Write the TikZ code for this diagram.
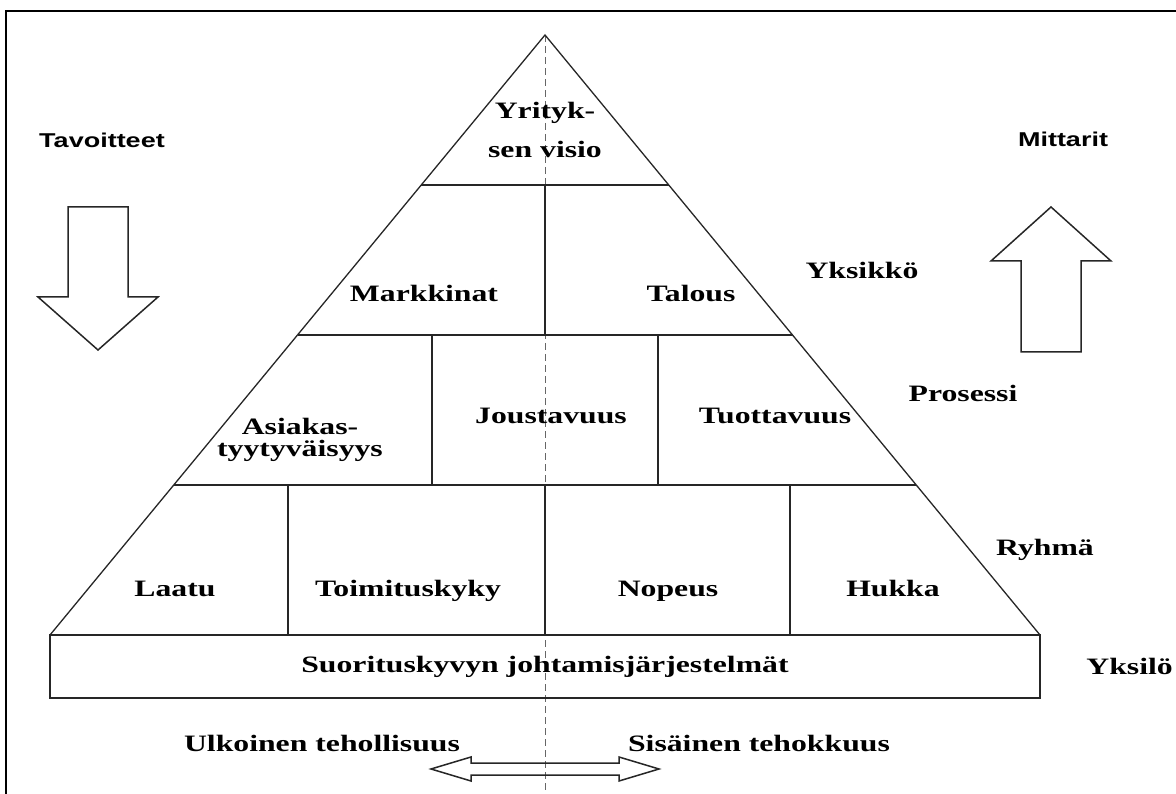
\documentclass[tikz,border=0pt]{standalone}
\usepackage{fontspec}
\setmainfont{Liberation Serif}[FakeStretch=1.35]
\newfontfamily\sidefont{Liberation Sans}[FakeStretch=1.35]
\usetikzlibrary{calc}

\begin{document}
\begin{tikzpicture}[x=1pt, y=-1pt,
  lvl/.style={font=\bfseries\fontsize{23.5}{22}\selectfont, inner sep=0pt, align=center},
  side/.style={font=\sidefont\bfseries\fontsize{20}{22}\selectfont, inner sep=0pt, anchor=base},
  edge/.style={draw=black!85, line width=1.3pt},
  hollow/.style={draw=black!85, line width=1.5pt, line join=miter}]
  \clip (0,0) rectangle (1176,794);
  % frame
  \draw[line width=2.8pt] (6,800) -- (6,11) -- (1180,11);
  % pyramid corners
  \coordinate (top) at (545,35);
  \coordinate (bl) at (50,635);
  \coordinate (br) at (1040,635);
  % centre line
  \draw[black!60, line width=1pt, dash pattern=on 7pt off 4pt] (top) -- (545,800);
  % pyramid
  \draw[edge] (bl) -- (top) -- (br);
  \draw[edge] ($(top)!0.25!(bl)$) -- ($(top)!0.25!(br)$);
  \draw[edge] ($(top)!0.5!(bl)$) -- ($(top)!0.5!(br)$);
  \draw[edge] ($(top)!0.75!(bl)$) -- ($(top)!0.75!(br)$);
  \draw[edge] (545,185) -- (545,335);
  \draw[edge] (432,335) -- (432,485);
  \draw[edge] (658,335) -- (658,485);
  \draw[edge] (288,485) -- (288,635);
  \draw[edge] (545,485) -- (545,635);
  \draw[edge] (790,485) -- (790,635);
  \node[lvl, edge, minimum width=990pt, minimum height=63pt] (johto) at (545,666.5)
    {Suorituskyvyn johtamisjärjestelmät};
  % level texts
  \node[lvl] (visio) at (545,129.5) {Yrityk-\\[17pt]sen visio};
  \node[lvl, anchor=base] (markkinat) at (424,302) {Markkinat};
  \node[lvl, anchor=base] (talous) at (691,302) {Talous};
  \node[lvl] (asiakas) at (300,440) {Asiakas-\\tyytyväisyys};
  \node[lvl, anchor=base] (jousto) at (551,424) {Joustavuus};
  \node[lvl, anchor=base] (tuotto) at (775,424) {Tuottavuus};
  \node[lvl, anchor=base] (laatu) at (175,596) {Laatu};
  \node[lvl, anchor=base] (toimitus) at (408,596) {Toimituskyky};
  \node[lvl, anchor=base] (nopeus) at (668,596) {Nopeus};
  \node[lvl, anchor=base] (hukka) at (893,596) {Hukka};
  % levels right
  \node[lvl, anchor=base] (yksikko) at (862,279) {Yksikkö};
  \node[lvl, anchor=base] (prosessi) at (963,402) {Prosessi};
  \node[lvl, anchor=base] (ryhma) at (1045,555) {Ryhmä};
  \node[lvl, anchor=base east] (yksilo) at (1173,674) {Yksilö};
  % bottom texts
  \node[lvl, anchor=base] (ulkoinen) at (322,751) {Ulkoinen tehollisuus};
  \node[lvl, anchor=base] (sisainen) at (759,751) {Sisäinen tehokkuus};
  % side texts
  \node[side] (tavoite) at (102,148) {Tavoitteet};
  \node[side] (mittari) at (1063,147) {Mittarit};
  % goal arrow down
  \draw[hollow] (68,207) -- (128,207) -- (128,297) -- (158,297) -- (98,350)
    -- (38,297) -- (68,297) -- cycle;
  % meter arrow up
  \draw[hollow] (1021,352) -- (1081,352) -- (1081,261) -- (1111,261) -- (1051,207)
    -- (991,261) -- (1021,261) -- cycle;
  % double arrow
  \draw[hollow] (431,769) -- (471,757) -- (471,763) -- (619,763) -- (619,757)
    -- (659,769) -- (619,781) -- (619,775) -- (471,775) -- (471,781) -- cycle;
\end{tikzpicture}
\end{document}
